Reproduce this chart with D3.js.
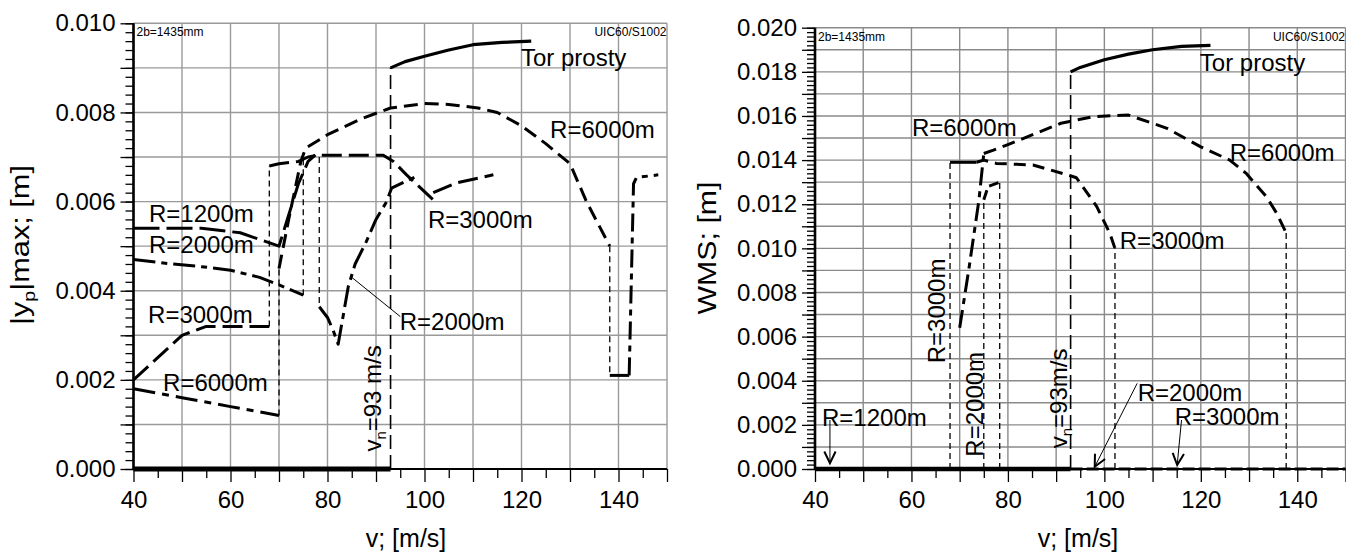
<!DOCTYPE html>
<html><head><meta charset="utf-8">
<script src="https://cdn.jsdelivr.net/npm/d3@7"></script>
<style>body{margin:0;background:#fff}svg{display:block;font-family:"Liberation Sans",Arial,sans-serif}</style>
</head><body><svg id="c" width="1346" height="555"></svg>
<script>
// ---------------- DATA ----------------
const xLabelTicks = [40, 60, 80, 100, 120, 140];
const yLabelTicksLeft = [0, 0.002, 0.004, 0.006, 0.008, 0.010];
const yLabelTicksRight = [0, 0.002, 0.004, 0.006, 0.008, 0.010, 0.012, 0.014, 0.016, 0.018, 0.020];

// Left panel: |yp|max
const L_zero = [[40, 0], [93, 0]];
const L_vn = [[93, 0], [93, 0.0090]];
const L_tor = [[93, 0.0090], [96, 0.00914], [100, 0.00926], [105, 0.0094], [110, 0.00952], [116, 0.00957], [122, 0.0096]];
const L_r1200 = [[40, 0.0054], [48, 0.0054], [54, 0.0054], [62, 0.0053], [70, 0.0050], [72, 0.0057], [74, 0.0064], [76, 0.0069], [77.5, 0.00705]];
const L_r2000a = [[40, 0.0047], [48, 0.0046], [54, 0.00454], [60, 0.00446], [66, 0.0043], [70, 0.00413], [75, 0.0039]];
const L_r2000b = [[78.3, 0.00364], [80, 0.0034], [81.2, 0.0031], [82.2, 0.0028], [84.3, 0.0041], [85.7, 0.0046], [88, 0.0051], [90, 0.0056], [92.2, 0.0060], [93.2, 0.0063], [96, 0.00645], [99, 0.0066]];
const L_r3000a = [[40, 0.0020], [45, 0.0025], [50, 0.0030], [55, 0.0032], [60, 0.0032], [68, 0.0032]];
const L_r3000b = [[68, 0.0068], [70, 0.00685], [74, 0.0069], [76, 0.0070], [78, 0.00704], [91.5, 0.00704], [93.6, 0.0069], [96.3, 0.0066], [102.2, 0.0060]];
const L_r3000c = [[101.8, 0.0062], [106.6, 0.00642], [114.2, 0.0066]];
const L_r6000a = [[40, 0.0018], [50, 0.0016], [60, 0.0014], [70, 0.0012]];
const L_r6000b = [[70, 0.0045], [72, 0.0056], [74.5, 0.0069], [75.5, 0.0072], [80, 0.0075], [87, 0.00786], [93, 0.0081], [100, 0.0082], [105, 0.00818], [111, 0.0081], [115, 0.0080], [120, 0.0077], [125, 0.0073], [130, 0.00685], [133.4, 0.0060], [138.2, 0.0050]];
const L_r6000c = [[138.2, 0.0021], [142.2, 0.0021]];
const L_r6000d = [[142.2, 0.0021], [143.1, 0.0064], [143.7, 0.00654], [148.2, 0.0066]];
const L_jumps = [
  [[70, 0.0012], [70, 0.0045]],
  [[68, 0.0032], [68, 0.0068]],
  [[75, 0.0039], [75, 0.0070]],
  [[78.3, 0.0070], [78.3, 0.00364]],
  [[138.2, 0.0050], [138.2, 0.0021]]
];
const L_leader = [[85, 0.0043], [95, 0.00342]];

// Right panel: WMS
const R_zeroSolid = [[40, 0], [93, 0]];
const R_zeroDash = [[93, 0], [150, 0]];
const R_vn = [[93, 0], [93, 0.0180]];
const R_tor = [[93, 0.0180], [95, 0.0182], [100, 0.01855], [105, 0.0188], [110, 0.0190], [116, 0.01915], [122, 0.0192]];
const R_r6000a = [[70, 0.0064], [72, 0.0092], [74, 0.0122], [75, 0.0143]];
const R_r6000b = [[75, 0.0143], [77, 0.01445], [80, 0.0147], [85, 0.01514], [91, 0.01567], [97.7, 0.01597], [105, 0.01604], [113, 0.01544], [120, 0.0146], [126, 0.0140], [129.4, 0.0134], [133.6, 0.01234], [135.7, 0.0116], [137.7, 0.0107]];
const R_r3000solid = [[68, 0.0139], [73.5, 0.0139]];
const R_r3000 = [[73.5, 0.0139], [75, 0.0140], [77.6, 0.01385], [85.2, 0.01378], [92.8, 0.0133], [94.2, 0.0132], [98.4, 0.0119], [101.1, 0.0107], [102.2, 0.0100]];
const R_r2000 = [[75, 0.0122], [75.9, 0.0128], [78.3, 0.0130]];
const R_jumps = [
  [[68, 0], [68, 0.0139]],
  [[75, 0], [75, 0.0122]],
  [[78.3, 0], [78.3, 0.0130]],
  [[102.2, 0], [102.2, 0.0100]],
  [[137.7, 0], [137.7, 0.0107]]
];
const R_arrows = [
  [[43.1, 0.00222], [43.1, 0.00026]],
  [[106.8, 0.00388], [98.0, 0.0001]],
  [[116, 0.00222], [115.1, 0.00018]]
];

// annotation texts (anchor in data coords)
const L_labels = [
  ["Tor prosty", 119.9, 0.00904], ["R=6000m", 125.9, 0.00742], ["R=3000m", 100.7, 0.0054],
  ["R=1200m", 43.2, 0.00554], ["R=2000m", 43.2, 0.00484], ["R=3000m", 43.0, 0.00327],
  ["R=6000m", 46.1, 0.00175], ["R=2000m", 94.9, 0.00312]
];
const R_labels = [
  ["Tor prosty", 119.8, 0.01805], ["R=6000m", 60.1, 0.01507], ["R=6000m", 126.0, 0.01396],
  ["R=3000m", 103.2, 0.00997], ["R=1200m", 41.45, 0.00195], ["R=2000m", 106.9, 0.00308],
  ["R=3000m", 114.6, 0.00199]
];
const R_rotLabels = [["R=3000m", 66.9, 0.00479], ["R=2000m", 74.8, 0.00056]];

// ---------------- DRAW ----------------
const svg = d3.select('#c');
const FS = 24;

function makePanel(o) {
  const g = svg.append('g');
  const x = d3.scaleLinear().domain([40, 150]).range(o.xr);
  const y = d3.scaleLinear().domain([0, o.ymax]).range(o.yr);
  const line = d3.line().x(d => x(d[0])).y(d => y(d[1]));
  const nMinor = Math.round(o.ymax / 0.0002);
  const nMajor = Math.round(o.ymax / 0.001);

  // grid
  g.append('g').selectAll('line').data(d3.range(40, 151, 10)).join('line')
    .attr('x1', d => x(d)).attr('x2', d => x(d)).attr('y1', y(0)).attr('y2', y(o.ymax))
    .attr('stroke', o.grid).attr('stroke-width', 1.4);
  g.append('g').selectAll('line').data(d3.range(1, nMajor + 1).map(i => i * 0.001)).join('line')
    .attr('x1', x(40)).attr('x2', x(150)).attr('y1', d => y(d)).attr('y2', d => y(d))
    .attr('stroke', o.grid).attr('stroke-width', 1.4);

  // axes
  const x0 = x(40), y0 = y(0);
  const ax1 = g.append('g').attr('transform', `translate(${x0},0)`)
    .call(d3.axisLeft(y).tickValues(d3.range(0, nMinor + 1).map(i => i * 0.0002)).tickSize(8).tickFormat(''));
  const ax2 = g.append('g').attr('transform', `translate(${x0},0)`)
    .call(d3.axisLeft(y).tickValues(d3.range(0, nMajor + 1).map(i => i * 0.001)).tickSize(13).tickPadding(5)
      .tickFormat(d => o.ylabels.some(v => Math.abs(v - d) < 1e-9) ? d3.format('.3f')(d) : ''));
  const ax3 = g.append('g').attr('transform', `translate(0,${y0})`)
    .call(d3.axisBottom(x).tickValues(d3.range(45, 151, 10)).tickSize(9).tickFormat(''));
  const ax4 = g.append('g').attr('transform', `translate(0,${y0})`)
    .call(d3.axisBottom(x).tickValues(d3.range(40, 151, 10)).tickSize(13).tickPadding(9)
      .tickFormat(d => xLabelTicks.includes(d) ? d : ''));
  [ax1, ax2, ax3, ax4].forEach(a => {
    a.select('.domain').remove();
    a.selectAll('line').attr('stroke', '#000').attr('stroke-width', 1.3);
    a.selectAll('text').attr('font-size', FS).attr('font-family', '"Liberation Sans",Arial,sans-serif').attr('fill', '#000');
  });
  g.append('line').attr('x1', x0).attr('x2', x(150)).attr('y1', y0).attr('y2', y0).attr('stroke', '#000').attr('stroke-width', 2);
  g.append('line').attr('x1', x0).attr('x2', x0).attr('y1', y0 + 1).attr('y2', y(o.ymax)).attr('stroke', '#000').attr('stroke-width', 2.6);

  // titles
  g.append('text').attr('x', o.xtitle).attr('y', 547).attr('text-anchor', 'middle').attr('font-size', 25).text('v; [m/s]');
  const yt = g.append('text').attr('transform', `translate(${o.ytx},${o.yty}) rotate(-90)`)
    .attr('text-anchor', 'middle').attr('font-size', 25)
    .attr('textLength', o.ytLen).attr('lengthAdjust', 'spacingAndGlyphs');
  o.ytitle(yt);

  // small corner texts
  g.append('text').attr('x', x0 + 3).attr('y', y(o.ymax) + 13).attr('font-size', 12).text('2b=1435mm');
  g.append('text').attr('x', x(150) - 0.5).attr('y', y(o.ymax) + 13).attr('text-anchor', 'end').attr('font-size', 12).text('UIC60/S1002');

  return { g, x, y, line };
}

function path(P, data, w, dash) {
  P.g.append('path').attr('d', P.line(data)).attr('fill', 'none').attr('stroke', '#000')
    .attr('stroke-width', w).attr('stroke-dasharray', dash || null).attr('stroke-linejoin', 'round');
}
function label(P, t, dx, dy) {
  P.g.append('text').attr('x', P.x(dx)).attr('y', P.y(dy)).attr('font-size', FS).text(t);
}
function vnLabel(P, dx, dy, spaced) {
  const t = P.g.append('text').attr('transform', `translate(${P.x(dx)},${P.y(dy)}) rotate(-90)`).attr('font-size', FS);
  t.append('tspan').text('v');
  t.append('tspan').attr('font-size', 15).attr('dy', 5).text('n');
  t.append('tspan').attr('dy', -5).text(spaced ? '=93 m/s' : '=93m/s');
}

// ---- Left panel ----
const L = makePanel({
  xr: [133.5, 667], ymax: 0.010, yr: [469, 23.3], ylabels: yLabelTicksLeft, grid: '#9a9a9a',
  xtitle: 406, ytx: 29, yty: 245, ytLen: 160,
  ytitle: t => {
    t.append('tspan').text('|y');
    t.append('tspan').attr('font-size', 16).attr('dy', 6).text('p');
    t.append('tspan').attr('dy', -6).text('|max; [m]');
  }
});
L_jumps.forEach(s => path(L, s, 1.3, '6,4'));
path(L, L_vn, 1.6, '14,6');
path(L, L_zero, 5);
path(L, L_tor, 3.2);
path(L, L_r1200, 3, '26,7');
path(L, L_r2000a, 3, '22,6,6,6');
path(L, L_r2000b, 3, '22,6,6,6');
path(L, L_r3000a, 3, '20,7');
path(L, L_r3000b, 3, '20,7');
path(L, L_r3000c, 3, '20,7');
path(L, L_r6000a, 3, '22,7,7,7');
path(L, L_r6000b, 3, '14,7');
path(L, L_r6000c, 3);
path(L, L_r6000d, 3, '18,6,6,6');
path(L, L_leader, 1);
L_labels.forEach(d => label(L, d[0], d[1], d[2]));
vnLabel(L, 91.0, 0.00039, true);

// ---- Right panel ----
const R = makePanel({
  xr: [815, 1345.5], ymax: 0.020, yr: [469, 27.7], ylabels: yLabelTicksRight, grid: '#8a8a8a',
  xtitle: 1078, ytx: 716, yty: 248, ytLen: 133,
  ytitle: t => t.text('WMS; [m]')
});
R_jumps.forEach(s => path(R, s, 1.3, '6,4'));
path(R, R_vn, 1.6, '14,6');
path(R, R_zeroSolid, 4.5);
path(R, R_zeroDash, 3, '12,4');
path(R, R_tor, 3.2);
path(R, R_r6000a, 3, '18,6,6,6');
path(R, R_r6000b, 3, '13,7');
path(R, R_r3000solid, 3);
path(R, R_r3000, 3, '12,7');
path(R, R_r2000, 3, '10,5');
R_arrows.forEach(a => {
  path(R, a, 1);
  const x1 = R.x(a[0][0]), y1 = R.y(a[0][1]), x2 = R.x(a[1][0]), y2 = R.y(a[1][1]);
  const ang = Math.atan2(y2 - y1, x2 - x1), L2 = 13, spread = 0.45;
  const p1 = [x2 - L2 * Math.cos(ang - spread), y2 - L2 * Math.sin(ang - spread)];
  const p2 = [x2 - L2 * Math.cos(ang + spread), y2 - L2 * Math.sin(ang + spread)];
  R.g.append('path').attr('d', `M${p1}L${x2},${y2}L${p2}`).attr('fill', 'none').attr('stroke', '#000').attr('stroke-width', 2);
});
R_labels.forEach(d => label(R, d[0], d[1], d[2]));
R_rotLabels.forEach(d => {
  R.g.append('text').attr('transform', `translate(${R.x(d[1])},${R.y(d[2])}) rotate(-90)`).attr('font-size', FS).text(d[0]);
});
vnLabel(R, 92.2, 0.00094, false);
</script></body></html>
